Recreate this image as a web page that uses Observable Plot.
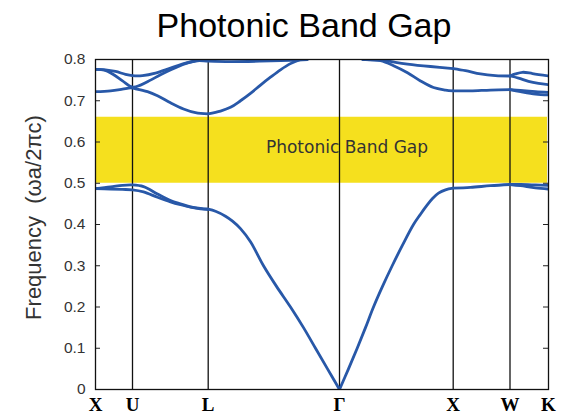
<!DOCTYPE html>
<html><head><meta charset="utf-8">
<script src="https://cdn.jsdelivr.net/npm/d3@7"></script>
<script src="https://cdn.jsdelivr.net/npm/@observablehq/plot@0.6"></script>
<style>
body{margin:0;background:#fff;}
#title{width:564px;height:48px;box-sizing:border-box;padding-left:44px;text-align:center;font-family:"Liberation Sans",Arial,sans-serif;font-size:34px;line-height:50px;color:#000;white-space:nowrap;overflow:visible;}
#chart svg{display:block;overflow:visible;}
</style></head><body>
<div id="title"></div>
<div id="chart"></div>
<script>
// ---- data ----
const titleText = "Photonic Band Gap";
const yLabel = "Frequency  (\u03c9a/2\u03c0c)";
const kLabels = ["X", "U", "L", "\u0393", "X", "W", "K"];
const kPoints = [0, 37, 112.7, 244, 357.7, 414.5, 453];   // path distance of symmetry points
const yTicks = [0, 0.1, 0.2, 0.3, 0.4, 0.5, 0.6, 0.7, 0.8];
const gapRange = [0.5, 0.66];
const gapLabel = "Photonic Band Gap";

// band curves: [k, frequency]
const low_XUL_a = [[0,.487],[15,.491],[27,.495],[37,.496],[48,.492],[62,.474],[75,.458],[85,.450],[95,.443],[105,.439],[112.7,.437]];
const low_XUL_b = [[0,.487],[15,.486],[27,.485],[37,.484],[48,.479],[62,.466],[75,.455],[85,.448],[95,.442],[105,.438],[112.7,.437]];
const low_LG = [[112.7,.437],[120,.432],[130,.42],[137,.408],[145,.39],[155,.358],[168,.3],[181,.25],[195,.2],[208,.15],[220,.1],[232,.05],[244,0]];
const low_GX = [[244,0],[253,.05],[261.7,.1],[270,.15],[278,.2],[287,.25],[296.7,.3],[307,.35],[318,.4],[325,.425],[331,.445],[337,.463],[343,.476],[350,.484],[357.7,.488]];
const low_XW = [[357.7,.488],[375,.49],[395,.494],[414.5,.497]];
const low_WK_a = [[414.5,.497],[425,.497],[440,.496],[453,.495]];
const low_WK_b = [[414.5,.497],[425,.494],[440,.489],[453,.486]];

const up_XUL_a = [[0,.722],[15,.724],[27,.728],[35,.731],[40,.729],[52,.722],[62,.712],[75,.695],[88,.68],[100,.671],[112.7,.668]];
const up_XUL_b = [[0,.776],[8,.775],[17,.765],[27,.748],[37,.733],[45,.738],[55,.75],[65,.763],[77,.777],[90,.79],[102,.798]];
const up_XUL_c = [[0,.776],[10,.775],[20,.771],[30,.764],[37,.761],[47,.761],[60,.767],[75,.779],[90,.791],[102,.797],[112.7,.796],[135,.795],[165,.796],[195,.798],[212,.8]];
const up_LG = [[112.7,.668],[125,.675],[135,.684],[145,.70],[155,.718],[165,.738],[175,.757],[185,.775],[195,.79],[205,.8]];
const up_GX_a = [[267,.8],[285,.799],[300,.793],[312,.789],[335,.783],[357.7,.778]];
const up_GX_b = [[270,.8],[285,.797],[298,.785],[312,.768],[325,.748],[338,.732],[350,.726],[357.7,.724]];
const up_XW_a = [[357.7,.778],[370,.773],[385,.765],[400,.761],[414.5,.760]];
const up_WK_a = [[414.5,.760],[420,.765],[427,.769],[437,.766],[453,.760]];
const up_WK_b = [[414.5,.760],[423,.755],[433,.747],[443,.742],[453,.739]];
const up_XW_b = [[357.7,.724],[375,.724],[395,.726],[414.5,.727]];
const up_WK_c = [[414.5,.727],[425,.725],[440,.722],[453,.72]];
const up_WK_d = [[414.5,.727],[425,.722],[440,.716],[453,.714]];

const curves = {low_XUL_a, low_XUL_b, low_LG, low_GX, low_XW, low_WK_a, low_WK_b,
  up_XUL_a, up_XUL_b, up_XUL_c, up_LG, up_GX_a, up_GX_b, up_XW_a, up_WK_a, up_WK_b, up_XW_b, up_WK_c, up_WK_d};
const rows = Object.entries(curves).flatMap(([id, pts]) => pts.map(([k, f]) => ({id, k, f})));
const kTicks = kLabels.map((label, i) => ({k: kPoints[i], label}));

document.getElementById("title").textContent = titleText;

const sans = "Liberation Sans, Arial, Helvetica, sans-serif";
const frameW = 564 - 95 - 16;

const chart = Plot.plot({
  width: 564, height: 369,
  marginTop: 11, marginBottom: 28, marginLeft: 95, marginRight: 16,
  x: {domain: [kPoints[0], kPoints[kPoints.length - 1]], axis: null},
  y: {domain: [yTicks[0], yTicks[yTicks.length - 1]], axis: null},
  style: {fontFamily: sans, background: "transparent", overflow: "visible"},
  marks: [
    Plot.rect([gapRange], {y1: d => d[0], y2: d => d[1], fill: "#F5E01E", insetLeft: 1, insetRight: 1}),
    Plot.ruleX(kPoints.slice(1, -1), {stroke: "#111", strokeWidth: 1.3}),
    Plot.tickY(yTicks, {y: d => d, insetRight: frameW - 5, stroke: "#222", strokeWidth: 1}),
    Plot.tickY(yTicks, {y: d => d, insetLeft: frameW - 5, stroke: "#222", strokeWidth: 1}),
    Plot.text([gapLabel], {x: () => (kPoints[0] + kPoints[kPoints.length - 1]) / 2, y: () => (gapRange[0] + gapRange[1]) / 2,
      dx: 25, dy: -3, fontSize: 17, fill: "#333", fontFamily: "DejaVu Sans, sans-serif", textAnchor: "middle"}),
    Plot.line(rows, {x: "k", y: "f", z: "id", curve: "catmull-rom", stroke: "#2858A8", strokeWidth: 2.8, clip: true}),
    Plot.frame({stroke: "#111", strokeWidth: 1.3}),
    Plot.text(yTicks, {y: d => d, text: d => d === 0 ? "0" : d.toFixed(1), frameAnchor: "left", textAnchor: "end",
      dx: -10, fontSize: 15.5, fill: "#333"}),
    Plot.text(kTicks, {x: "k", text: "label", frameAnchor: "bottom", lineAnchor: "top", dy: 8,
      fontSize: 19, fontWeight: "bold", fontFamily: "Liberation Serif, Times New Roman, serif", fill: "#000"}),
    Plot.text([yLabel], {frameAnchor: "left", textAnchor: "middle", rotate: -90, dx: -62, dy: -7, fontSize: 22, fill: "#333"})
  ]
});
document.getElementById("chart").appendChild(chart);
</script>
</body></html>
